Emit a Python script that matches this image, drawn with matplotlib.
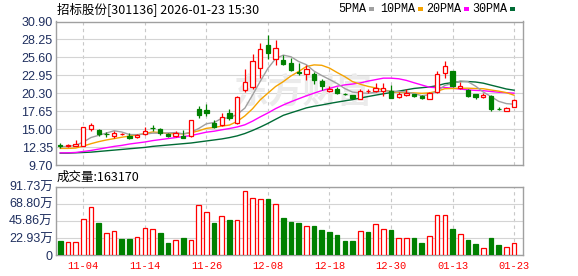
import matplotlib
matplotlib.use("Agg")
import matplotlib.pyplot as plt
from matplotlib.patches import Rectangle

# daily bars, 2025-10-30 .. 2026-01-23
opens = [12.65, 12.45, 12.55, 12.50, 14.95, 14.85, 14.30, 14.00, 14.25, 13.97,
         13.77, 14.26, 15.20, 14.95, 14.26, 13.97, 14.00, 13.97, 17.90, 17.80,
         15.90, 15.68, 17.35, 15.90, 20.84, 21.22, 24.02, 27.37, 25.40, 25.16,
         24.82, 23.45, 23.20, 23.09, 22.11, 20.60, 20.93, 20.20, 20.00, 19.52,
         20.60, 20.64, 20.64, 20.64, 19.75, 20.00, 20.15, 19.90, 19.52, 20.49,
         23.29, 23.54, 21.08, 20.74, 20.15, 19.75, 19.85, 17.95, 17.75, 18.28]
highs = [12.90, 12.85, 13.40, 15.30, 15.90, 15.00, 14.60, 14.75, 14.50, 14.40,
         14.30, 15.30, 15.60, 15.10, 14.40, 14.65, 14.80, 16.30, 18.38, 18.68,
         16.30, 17.40, 17.90, 19.90, 23.90, 26.10, 27.70, 28.95, 28.20, 26.00,
         25.50, 24.80, 24.40, 23.45, 22.45, 21.30, 21.20, 20.30, 20.10, 20.90,
         20.90, 21.80, 21.80, 21.50, 20.50, 20.90, 20.25, 20.00, 20.50, 23.60,
         25.00, 23.60, 21.90, 20.90, 20.15, 20.30, 20.00, 18.30, 18.20, 19.50]
lows = [12.25, 12.35, 12.50, 12.45, 14.70, 14.00, 13.90, 13.70, 14.10, 13.60,
        13.65, 14.10, 14.75, 14.10, 13.85, 13.90, 13.65, 13.90, 16.57, 16.90,
        15.10, 15.40, 16.30, 15.80, 20.50, 20.95, 22.60, 25.35, 24.50, 24.40,
        23.65, 22.95, 22.20, 21.72, 20.74, 20.45, 20.15, 20.05, 19.50, 19.40,
        20.40, 20.50, 19.90, 19.55, 19.55, 19.90, 19.70, 19.45, 19.40, 20.35,
        22.60, 21.20, 20.90, 19.70, 19.50, 19.60, 17.70, 17.85, 17.70, 18.28]
closes = [12.55, 12.60, 12.80, 15.25, 15.58, 14.22, 14.25, 14.50, 14.30, 13.75,
          14.16, 14.65, 15.15, 14.36, 13.95, 14.36, 13.70, 16.28, 17.16, 17.45,
          15.30, 16.80, 16.60, 19.80, 22.00, 25.00, 26.88, 26.23, 26.97, 24.57,
          23.79, 23.35, 23.93, 22.21, 21.33, 20.90, 20.34, 20.15, 19.65, 20.69,
          20.65, 21.08, 21.13, 19.66, 20.25, 20.34, 19.85, 19.60, 20.34, 23.09,
          24.37, 21.33, 21.43, 19.85, 19.75, 20.05, 17.98, 17.90, 18.19, 19.26]
prev_close = 12.70  # close of the day before the window
# volume in 万股
volumes = [18.8, 17.4, 17.4, 48.3, 63.9, 42.9, 29.0, 31.7, 21.4, 21.4,
           24.1, 35.7, 34.9, 29.5, 16.1, 19.7, 22.8, 19.7, 66.6, 57.2,
           42.9, 51.8, 46.9, 46.5, 85.3, 76.0, 75.1, 75.1, 67.9, 50.0,
           44.2, 42.9, 38.4, 38.9, 33.5, 30.8, 26.8, 18.8, 18.8, 31.7,
           30.8, 41.1, 34.9, 33.5, 22.8, 22.8, 22.8, 16.1, 25.5, 53.2,
           53.2, 34.9, 28.2, 20.1, 14.7, 8.9, 22.8, 13.4, 10.7, 16.32]

ma5 = [12.40, 12.45, 12.60, 13.10, 13.76, 14.09, 14.42, 14.76, 14.57, 14.20,
       14.19, 14.27, 14.40, 14.41, 14.45, 14.49, 14.30, 14.53, 15.09, 15.79,
       15.98, 16.60, 16.66, 17.19, 18.10, 20.04, 22.06, 23.98, 25.42, 25.93,
       25.69, 24.98, 24.52, 23.57, 22.92, 22.34, 21.74, 20.99, 20.47, 20.35,
       20.30, 20.44, 20.64, 20.64, 20.55, 20.49, 20.25, 19.94, 20.08, 20.64,
       21.45, 21.75, 22.11, 22.01, 21.35, 20.48, 19.81, 19.11, 18.77, 18.68]
ma10 = [12.15, 12.15, 12.20, 12.50, 12.85, 13.15, 13.40, 13.60, 13.80, 13.98,
        14.14, 14.35, 14.58, 14.49, 14.33, 14.34, 14.29, 14.47, 14.75, 15.12,
        15.24, 15.45, 15.60, 16.14, 16.95, 18.01, 19.33, 20.32, 21.30, 22.02,
        22.86, 23.52, 24.25, 24.49, 24.43, 24.02, 23.36, 22.75, 22.02, 21.63,
        21.32, 21.09, 20.81, 20.56, 20.45, 20.39, 20.35, 20.29, 20.36, 20.60,
        20.97, 21.00, 21.03, 21.05, 21.00, 20.97, 20.78, 20.61, 20.39, 20.01]
ma20 = [11.50, 11.50, 11.55, 11.70, 11.85, 12.05, 12.25, 12.45, 12.60, 12.80,
        12.95, 13.10, 13.30, 13.45, 13.60, 13.75, 13.90, 14.05, 14.30, 14.55,
        14.69, 14.90, 15.09, 15.32, 15.64, 16.18, 16.81, 17.39, 18.03, 18.57,
        19.05, 19.49, 19.92, 20.32, 20.69, 21.01, 21.34, 21.54, 21.66, 21.82,
        22.09, 22.31, 22.53, 22.53, 22.44, 22.20, 21.85, 21.52, 21.19, 21.12,
        21.15, 21.04, 20.92, 20.80, 20.72, 20.68, 20.56, 20.45, 20.38, 20.31]
ma30 = [11.45, 11.45, 11.50, 11.55, 11.60, 11.70, 11.80, 11.90, 12.00, 12.10,
        12.20, 12.30, 12.45, 12.55, 12.65, 12.75, 12.85, 12.95, 13.10, 13.25,
        13.40, 13.55, 13.75, 14.00, 14.35, 14.80, 15.30, 15.85, 16.45, 17.04,
        17.41, 17.77, 18.14, 18.38, 18.57, 18.79, 18.99, 19.18, 19.36, 19.59,
        19.81, 20.02, 20.22, 20.40, 20.61, 20.81, 21.01, 21.12, 21.23, 21.42,
        21.72, 21.87, 22.03, 22.03, 21.96, 21.79, 21.50, 21.22, 20.93, 20.75]

price_ticks = [9.70, 12.35, 15.00, 17.65, 20.30, 22.95, 25.60, 28.25, 30.90]
vol_ticks = [0, 22.93, 45.86, 68.80, 91.73]
vol_labels = ['0', '22.93万', '45.86万', '68.80万', '91.73万']
date_pos = [3, 11, 19, 27, 35, 43, 51, 59]
date_labels = ['11-04', '11-14', '11-26', '12-08', '12-18', '12-30', '01-13', '01-23']

RED = '#ff0000'
GREEN = '#008000'
FRAME = '#a0a0a0'
GRID = '#d4d4d4'
LABEL = '#1f2f5f'
CJK = ['Liberation Sans', 'Noto Sans CJK SC']

fig = plt.figure(figsize=(5.78, 2.76), dpi=100)
W, H = 578.0, 276.0
ax = fig.add_axes([55.5 / W, 1 - 165 / H, 467 / W, 143.5 / H])
axv = fig.add_axes([55.5 / W, 1 - 255 / H, 467 / W, 68.3 / H])

n = len(closes)
xlim = (-0.62, n + 0.1)


def style_axes(a):
    for s in a.spines.values():
        s.set_color(FRAME)
        s.set_linewidth(1.0)
    a.set_xlim(*xlim)
    a.tick_params(length=0)
    for p in date_pos:
        a.axvline(p, color='#c8c8c8', lw=0.8, ls=(0, (3, 3)), zorder=0)


# price panel
style_axes(ax)
ax.set_ylim(price_ticks[0], price_ticks[-1])
for t in price_ticks:
    ax.axhline(t, color=GRID, lw=0.8, zorder=0)
ax.set_yticks(price_ticks)
ax.set_yticklabels(['%.2f' % t for t in price_ticks], color=LABEL,
                   fontsize=9, family='Liberation Sans')
ax.tick_params(axis='y', pad=2)
ax.set_xticks([])

ax.text(0.53, 0.51, '东方财富', transform=ax.transAxes, fontsize=25,
        color='#ebebeb', family=['Noto Sans CJK SC'], weight='bold',
        ha='center', va='center', zorder=0.5)

bw = 0.56
for i in range(n):
    o, c, h, l = opens[i], closes[i], highs[i], lows[i]
    up = c >= o
    col = RED if up else GREEN
    ax.vlines(i, l, h, color=col, lw=0.9, zorder=3)
    bot = min(o, c)
    hgt = max(abs(c - o), 0.04)
    ax.add_patch(Rectangle((i - bw / 2, bot), bw, hgt,
                           facecolor='white' if up else GREEN,
                           edgecolor=col, lw=0.9, zorder=4))

x = list(range(n))
ax.plot(x, ma30, color='#006b35', lw=1.0, zorder=2)
ax.plot(x, ma20, color='#ff00ff', lw=1.0, zorder=2)
ax.plot(x, ma10, color='#f5a300', lw=1.0, zorder=2)
ax.plot(x, ma5, color='#a0a0a0', lw=1.0, zorder=2)

# volume panel: colour follows close vs previous close
style_axes(axv)
axv.set_ylim(0, vol_ticks[-1])
for t in vol_ticks:
    axv.axhline(t, color=GRID, lw=0.8, zorder=0)
axv.set_yticks(vol_ticks)
axv.set_yticklabels(vol_labels, color=LABEL, fontsize=9, family=CJK)
axv.tick_params(axis='y', pad=2)
axv.set_xticks(date_pos)
axv.set_xticklabels(date_labels, color=RED, fontsize=7.5, family='Liberation Mono')
axv.tick_params(axis='x', pad=4)

vw = 0.6
prev = [prev_close] + closes[:-1]
for i in range(n):
    up = closes[i] >= prev[i]
    col = RED if up else GREEN
    axv.add_patch(Rectangle((i - vw / 2, 0), vw, volumes[i],
                            facecolor='white' if up else GREEN,
                            edgecolor=col, lw=0.9, zorder=3))

# header texts
fig.text(57 / W, 1 - 9 / H, '招标股份[301136] 2026-01-23 15:30', fontsize=9,
         family=['Noto Sans CJK SC'], va='center', ha='left')
fig.text(57 / W, 1 - 177.5 / H, '成交量:163170', fontsize=9,
         family=['Noto Sans CJK SC'], va='center', ha='left')

legend = [('5PMA', '#a0a0a0', 338), ('10PMA', '#f5a300', 380),
          ('20PMA', '#ff00ff', 426), ('30PMA', '#006b35', 472)]
for name, col, px in legend:
    t = fig.text(px / W, 1 - 9 / H, name, fontsize=8.5,
                 family='Liberation Mono', va='center', ha='left')
    fig.canvas.draw()
    bb = t.get_window_extent()
    fig.add_artist(Rectangle(((bb.x1 + 3) / W, 1 - 10.5 / H), 5 / W, 3 / H,
                             facecolor=col, edgecolor='none',
                             transform=fig.transFigure))

fig.savefig('out.png', dpi=100)
